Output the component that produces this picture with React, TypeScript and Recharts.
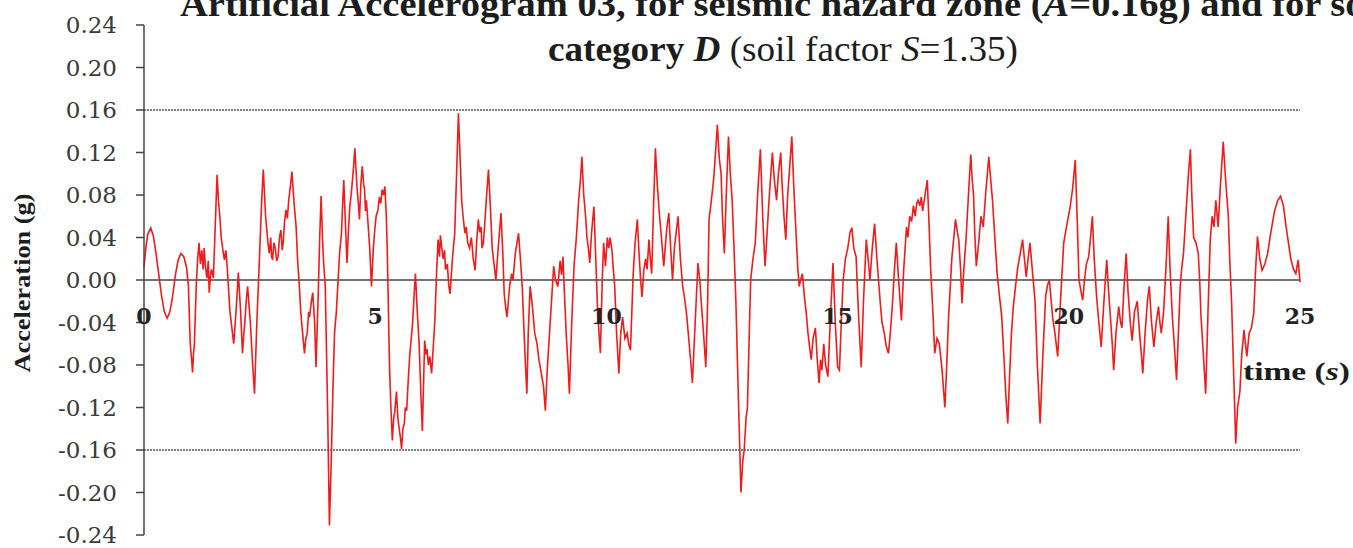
import { Line, LineChart, ReferenceDot, ReferenceLine, XAxis, YAxis } from "recharts";

// [time (s), acceleration (g)], in 5 s pieces
const seg0to5: [number, number][] = [
  [0.0, 0.012], [0.04, 0.03], [0.08, 0.043], [0.145, 0.049], [0.2, 0.042], [0.26, 0.025], [0.32, 0.005], [0.38, -0.015],
  [0.44, -0.03], [0.5, -0.036], [0.56, -0.03], [0.62, -0.015], [0.68, 0.005], [0.74, 0.019], [0.8, 0.025], [0.86, 0.022],
  [0.92, 0.012], [0.96, -0.005], [1.0, -0.06], [1.03, -0.075], [1.05, -0.087], [1.07, -0.07], [1.09, -0.06], [1.13, -0.005],
  [1.16, 0.02], [1.19, 0.035], [1.22, 0.015], [1.25, 0.028], [1.28, 0.01], [1.3, 0.03], [1.33, 0.012], [1.36, 0.002],
  [1.39, 0.018], [1.41, -0.012], [1.44, 0.005], [1.46, 0.01], [1.5, 0.002], [1.54, 0.05], [1.58, 0.099], [1.61, 0.075],
  [1.64, 0.06], [1.67, 0.04], [1.7, 0.03], [1.74, 0.019], [1.77, 0.028], [1.8, 0.012], [1.83, -0.01], [1.86, -0.03],
  [1.9, -0.045], [1.94, -0.06], [1.99, -0.03], [2.04, 0.007], [2.09, -0.03], [2.13, -0.069], [2.16, -0.05], [2.18, -0.04],
  [2.21, -0.02], [2.24, -0.006], [2.3, -0.04], [2.35, -0.08], [2.39, -0.107], [2.44, -0.04], [2.49, 0.013], [2.54, 0.07],
  [2.58, 0.104], [2.63, 0.06], [2.66, 0.045], [2.68, 0.035], [2.71, 0.025], [2.74, 0.04], [2.76, 0.022], [2.78, 0.019],
  [2.81, 0.035], [2.84, 0.03], [2.87, 0.018], [2.9, 0.022], [2.93, 0.04], [2.96, 0.047], [2.99, 0.028], [3.01, 0.035],
  [3.04, 0.055], [3.07, 0.066], [3.1, 0.058], [3.13, 0.075], [3.17, 0.09], [3.2, 0.102], [3.23, 0.082], [3.25, 0.07],
  [3.29, 0.05], [3.32, 0.02], [3.36, -0.006], [3.39, -0.03], [3.42, -0.045], [3.47, -0.069], [3.5, -0.055], [3.53, -0.05],
  [3.56, -0.03], [3.58, -0.035], [3.62, -0.02], [3.65, -0.012], [3.69, -0.04], [3.72, -0.082], [3.77, -0.01], [3.8, 0.04],
  [3.83, 0.079], [3.86, 0.04], [3.88, 0.02], [3.92, -0.006], [3.97, -0.12], [4.01, -0.231], [4.05, -0.17], [4.08, -0.113],
  [4.12, -0.05], [4.16, -0.03], [4.19, -0.006], [4.23, 0.025], [4.27, 0.044], [4.3, 0.075], [4.32, 0.094], [4.35, 0.06],
  [4.39, 0.016], [4.42, 0.045], [4.45, 0.069], [4.48, 0.08], [4.5, 0.09], [4.53, 0.105], [4.56, 0.124], [4.59, 0.1],
  [4.61, 0.085], [4.64, 0.07], [4.66, 0.057], [4.69, 0.09], [4.72, 0.107], [4.75, 0.09], [4.77, 0.085], [4.79, 0.065],
  [4.81, 0.075], [4.85, 0.05], [4.88, 0.031], [4.92, -0.006], [4.96, 0.03],
];

const seg5to10: [number, number][] = [
  [4.99, 0.047], [5.02, 0.06], [5.06, 0.066], [5.09, 0.078], [5.12, 0.072], [5.15, 0.085], [5.18, 0.08], [5.21, 0.088],
  [5.24, 0.06], [5.26, 0.03], [5.31, -0.082], [5.34, -0.12], [5.37, -0.151], [5.4, -0.13], [5.42, -0.125], [5.46, -0.105],
  [5.49, -0.13], [5.52, -0.14], [5.55, -0.15], [5.57, -0.159], [5.6, -0.14], [5.63, -0.135], [5.65, -0.12], [5.68, -0.123],
  [5.72, -0.09], [5.75, -0.069], [5.78, -0.055], [5.81, -0.04], [5.84, -0.015], [5.87, 0.006], [5.91, -0.03], [5.95, -0.06],
  [5.99, -0.11], [6.02, -0.142], [6.05, -0.09], [6.07, -0.057], [6.1, -0.07], [6.12, -0.065], [6.15, -0.08], [6.18, -0.072],
  [6.22, -0.088], [6.26, -0.06], [6.29, -0.038], [6.33, 0.01], [6.36, 0.038], [6.39, 0.022], [6.41, 0.042], [6.44, 0.03],
  [6.47, 0.02], [6.5, 0.028], [6.52, 0.01], [6.56, 0.015], [6.59, -0.005], [6.62, -0.013], [6.67, 0.02], [6.72, 0.044],
  [6.76, 0.1], [6.8, 0.157], [6.84, 0.11], [6.87, 0.075], [6.9, 0.06], [6.94, 0.044], [6.97, 0.05], [7.0, 0.035],
  [7.04, 0.03], [7.08, 0.04], [7.12, 0.02], [7.16, 0.009], [7.2, 0.04], [7.23, 0.057], [7.26, 0.045], [7.29, 0.05],
  [7.31, 0.03], [7.34, 0.035], [7.38, 0.06], [7.41, 0.08], [7.45, 0.104], [7.49, 0.07], [7.53, 0.03], [7.57, 0.015],
  [7.61, 0.0], [7.66, 0.03], [7.72, 0.063], [7.76, 0.025], [7.79, -0.013], [7.82, -0.025], [7.85, -0.035], [7.88, -0.02],
  [7.91, -0.005], [7.95, 0.006], [7.98, 0.0], [8.03, 0.025], [8.1, 0.044], [8.14, 0.02], [8.18, -0.006], [8.22, -0.05],
  [8.25, -0.08], [8.28, -0.107], [8.31, -0.05], [8.35, -0.006], [8.4, -0.025], [8.45, -0.05], [8.5, -0.06], [8.54, -0.075],
  [8.57, -0.082], [8.6, -0.09], [8.64, -0.1], [8.68, -0.123], [8.72, -0.085], [8.77, -0.05], [8.82, -0.015], [8.86, 0.013],
  [8.9, 0.0], [8.95, -0.006], [9.0, 0.018], [9.03, 0.005], [9.06, 0.022], [9.09, -0.01], [9.13, -0.05], [9.17, -0.08],
  [9.2, -0.107], [9.25, -0.04], [9.3, 0.013], [9.35, 0.04], [9.4, 0.075], [9.44, 0.095], [9.47, 0.116], [9.51, 0.08],
  [9.55, 0.06], [9.58, 0.04], [9.61, 0.03], [9.64, 0.016], [9.68, 0.045], [9.73, 0.069], [9.77, 0.02], [9.81, -0.03],
  [9.84, -0.05], [9.87, -0.069], [9.91, 0.0], [9.94, 0.035],
];

const seg10to15: [number, number][] = [
  [9.98, 0.013], [10.02, 0.04], [10.05, 0.03], [10.08, 0.04], [10.12, 0.028], [10.15, 0.01], [10.18, -0.006],
  [10.22, -0.05], [10.27, -0.088], [10.31, -0.05], [10.35, -0.035], [10.4, -0.055], [10.45, -0.05], [10.48, -0.06],
  [10.52, -0.066], [10.55, -0.03], [10.58, 0.006], [10.62, 0.035], [10.67, 0.057], [10.7, 0.03], [10.74, 0.0],
  [10.77, -0.016], [10.81, 0.01], [10.85, 0.02], [10.88, 0.01], [10.92, 0.038], [10.95, 0.02], [10.98, 0.006],
  [11.02, 0.07], [11.06, 0.124], [11.1, 0.09], [11.15, 0.06], [11.19, 0.04], [11.24, 0.013], [11.28, 0.035], [11.31, 0.05],
  [11.35, 0.063], [11.39, 0.03], [11.43, 0.0], [11.47, 0.03], [11.51, 0.045], [11.55, 0.06], [11.6, 0.02], [11.65, -0.006],
  [11.7, -0.02], [11.74, -0.035], [11.79, -0.06], [11.83, -0.08], [11.86, -0.097], [11.92, -0.04], [11.98, 0.016],
  [12.02, 0.0], [12.05, -0.02], [12.1, -0.05], [12.15, -0.082], [12.19, -0.02], [12.22, 0.057], [12.27, 0.075],
  [12.32, 0.095], [12.36, 0.12], [12.4, 0.146], [12.44, 0.115], [12.48, 0.1], [12.51, 0.06], [12.55, 0.025], [12.6, 0.09],
  [12.64, 0.135], [12.68, 0.1], [12.72, 0.075], [12.76, 0.03], [12.8, -0.02], [12.86, -0.12], [12.91, -0.2],
  [12.95, -0.17], [12.98, -0.16], [13.02, -0.13], [13.05, -0.12], [13.09, -0.05], [13.12, 0.0], [13.17, 0.02],
  [13.22, 0.035], [13.27, 0.08], [13.33, 0.123], [13.38, 0.06], [13.43, 0.013], [13.47, 0.04], [13.5, 0.063], [13.54, 0.09],
  [13.59, 0.12], [13.63, 0.095], [13.68, 0.075], [13.72, 0.1], [13.77, 0.12], [13.8, 0.09], [13.84, 0.06], [13.88, 0.038],
  [13.92, 0.08], [13.97, 0.11], [14.01, 0.135], [14.05, 0.09], [14.1, 0.045], [14.14, 0.01], [14.17, -0.006], [14.2, 0.0],
  [14.24, 0.006], [14.28, -0.015], [14.32, -0.03], [14.36, -0.05], [14.4, -0.065], [14.43, -0.075], [14.47, -0.055],
  [14.52, -0.045], [14.56, -0.075], [14.6, -0.097], [14.63, -0.075], [14.66, -0.085], [14.7, -0.06], [14.74, -0.08],
  [14.79, -0.091], [14.84, -0.04], [14.9, 0.016], [14.95, -0.04],
];

const seg15to20: [number, number][] = [
  [15.0, -0.082], [15.04, -0.085], [15.08, -0.04], [15.12, 0.0], [15.17, 0.02], [15.22, 0.03], [15.27, 0.045],
  [15.31, 0.049], [15.35, 0.03], [15.4, 0.022], [15.45, -0.03], [15.51, -0.082], [15.56, -0.02], [15.62, 0.038],
  [15.66, 0.02], [15.7, 0.0], [15.75, 0.03], [15.8, 0.053], [15.85, 0.02], [15.92, -0.02], [15.96, -0.04], [16.01, -0.05],
  [16.05, -0.062], [16.1, -0.069], [16.14, -0.05], [16.19, -0.02], [16.23, 0.01], [16.27, 0.035], [16.32, 0.0],
  [16.38, -0.038], [16.43, 0.01], [16.49, 0.05], [16.52, 0.04], [16.56, 0.06], [16.6, 0.055], [16.64, 0.07], [16.68, 0.06],
  [16.71, 0.072], [16.74, 0.075], [16.78, 0.07], [16.81, 0.078], [16.84, 0.065], [16.89, 0.08], [16.94, 0.094],
  [16.98, 0.05], [17.01, 0.013], [17.06, -0.03], [17.1, -0.069], [17.15, -0.055], [17.2, -0.06], [17.26, -0.085],
  [17.32, -0.12], [17.36, -0.08], [17.4, -0.035], [17.47, 0.02], [17.55, 0.057], [17.59, 0.045], [17.62, 0.038],
  [17.66, 0.01], [17.69, -0.022], [17.73, 0.01], [17.78, 0.04], [17.83, 0.08], [17.88, 0.118], [17.91, 0.095],
  [17.94, 0.08], [17.97, 0.04], [18.0, 0.013], [18.05, 0.035], [18.1, 0.06], [18.15, 0.05], [18.2, 0.08], [18.27, 0.116],
  [18.31, 0.095], [18.35, 0.075], [18.4, 0.04], [18.45, 0.006], [18.5, -0.015], [18.55, -0.035], [18.6, -0.075],
  [18.64, -0.11], [18.68, -0.135], [18.72, -0.09], [18.76, -0.05], [18.8, -0.025], [18.85, -0.005], [18.9, 0.013],
  [18.95, 0.025], [19.0, 0.038], [19.04, 0.02], [19.08, 0.003], [19.12, 0.02], [19.16, 0.035], [19.21, 0.01],
  [19.27, -0.02], [19.32, -0.08], [19.38, -0.135], [19.44, -0.07], [19.5, -0.015], [19.54, -0.005], [19.58, 0.0],
  [19.62, -0.02], [19.65, -0.035], [19.7, -0.05], [19.76, -0.072], [19.82, -0.02], [19.89, 0.035], [19.95, 0.05],
];

const seg20to25: [number, number][] = [
  [20.03, 0.069], [20.08, 0.085], [20.14, 0.113], [20.18, 0.06], [20.22, 0.0], [20.26, -0.01], [20.3, -0.019],
  [20.34, 0.0], [20.38, 0.015], [20.43, 0.022], [20.47, 0.04], [20.51, 0.06], [20.55, 0.02], [20.6, -0.015],
  [20.65, -0.04], [20.7, -0.063], [20.76, -0.02], [20.82, 0.019], [20.86, -0.01], [20.9, -0.035], [20.94, -0.06],
  [20.97, -0.085], [21.02, -0.05], [21.08, -0.025], [21.12, -0.04], [21.15, -0.045], [21.19, -0.01], [21.24, 0.025],
  [21.28, -0.01], [21.33, -0.04], [21.37, -0.057], [21.42, -0.03], [21.48, -0.02], [21.53, -0.05], [21.57, -0.07],
  [21.6, -0.088], [21.65, -0.05], [21.7, -0.02], [21.74, -0.006], [21.79, -0.04], [21.84, -0.063], [21.89, -0.04],
  [21.94, -0.025], [21.97, -0.04], [22.0, -0.05], [22.05, -0.03], [22.1, 0.01], [22.15, 0.06], [22.19, 0.01],
  [22.24, -0.035], [22.28, -0.06], [22.33, -0.094], [22.37, -0.05], [22.41, -0.006], [22.44, 0.01], [22.48, 0.025],
  [22.53, 0.06], [22.58, 0.095], [22.63, 0.123], [22.66, 0.08], [22.7, 0.04], [22.75, 0.035], [22.8, 0.025], [22.83, 0.0],
  [22.86, -0.035], [22.91, -0.07], [22.96, -0.107], [23.01, -0.03], [23.06, 0.038], [23.1, 0.06], [23.14, 0.05],
  [23.18, 0.075], [23.23, 0.05], [23.28, 0.09], [23.34, 0.13], [23.39, 0.095], [23.45, 0.06], [23.48, 0.02],
  [23.52, -0.02], [23.56, -0.08], [23.61, -0.154], [23.65, -0.12], [23.7, -0.105], [23.74, -0.07], [23.79, -0.047],
  [23.82, -0.06], [23.85, -0.072], [23.9, -0.05], [23.95, -0.045], [24.0, -0.031], [24.04, 0.01], [24.08, 0.041],
  [24.13, 0.02], [24.18, 0.009], [24.24, 0.015], [24.3, 0.025], [24.37, 0.045], [24.45, 0.065], [24.52, 0.075],
  [24.58, 0.079], [24.64, 0.07], [24.7, 0.05], [24.75, 0.035], [24.8, 0.02], [24.86, 0.01], [24.91, 0.006],
  [24.96, 0.019], [25.0, -0.002],
];

const yTicks = [0.24, 0.2, 0.16, 0.12, 0.08, 0.04, 0, -0.04, -0.08, -0.12, -0.16, -0.2, -0.24];
const xTicks = [0, 5, 10, 15, 20, 25];
const limitLines = [0.16, -0.16];

const rows = [...seg0to5, ...seg5to10, ...seg10to15, ...seg15to20, ...seg20to25].map(([t, a]) => ({ t, a }));

export default function App() {
  return (
    <div style={{ position: "absolute", left: 0, top: 0, width: 1353, height: 548, background: "#fff" }}>
      <LineChart width={1353} height={548} data={rows} margin={{ top: 25, right: 53, bottom: 13, left: 0 }}>
        <XAxis dataKey="t" type="number" domain={[0, 25]} hide />
        <YAxis
          type="number"
          domain={[-0.24, 0.24]}
          ticks={yTicks}
          interval={0}
          width={144}
          tickFormatter={(v) => Number(v).toFixed(2)}
          tick={{ fontFamily: "DejaVu Serif", fontSize: 23, fill: "#3a3a3a" }}
          tickSize={8}
          tickMargin={19}
          axisLine={{ stroke: "#444", strokeWidth: 1.5 }}
          tickLine={{ stroke: "#444", strokeWidth: 1.5 }}
        />
        {limitLines.map((v) => (
          <ReferenceLine key={v} y={v} stroke="#555" strokeWidth={1.5} strokeDasharray="2 1" />
        ))}
        <ReferenceLine y={0} stroke="#444" strokeWidth={1.5} />
        <Line type="linear" dataKey="a" stroke="#f21b1b" strokeWidth={1.6} dot={false} isAnimationActive={false} />
        {xTicks.map((t) => (
          <ReferenceDot
            key={t}
            x={t}
            y={0}
            r={0}
            fill="none"
            stroke="none"
            label={{
              value: String(t),
              position: "bottom",
              offset: 28,
              style: { fontFamily: "DejaVu Serif", fontSize: 22, fontWeight: 700, fill: "#222" },
            }}
          />
        ))}
      </LineChart>
      <svg
        width={1353}
        height={548}
        style={{ position: "absolute", left: 0, top: 0, pointerEvents: "none" }}
        fontFamily="Liberation Serif"
        fontWeight={700}
        fill="#1d1d1d"
      >
        <text x={180} y={16} fontSize={36} textLength={1206} lengthAdjust="spacingAndGlyphs">
          Artificial Accelerogram 03, for seismic hazard zone (<tspan fontStyle="italic">A</tspan>=0.16g) and for soil
        </text>
        <text x={548} y={61} fontSize={36} textLength={470} lengthAdjust="spacingAndGlyphs">
          category <tspan fontStyle="italic">D</tspan>
          <tspan fontWeight={400}> (soil factor <tspan fontStyle="italic">S</tspan>=1.35)</tspan>
        </text>
        <text
          x={0}
          y={0}
          transform="translate(30 283) rotate(-90)"
          textAnchor="middle"
          fontSize={24}
          textLength={179}
          lengthAdjust="spacingAndGlyphs"
        >
          Acceleration (g)
        </text>
        <text x={1243} y={380} fontSize={26} textLength={107} lengthAdjust="spacingAndGlyphs">
          time (<tspan fontStyle="italic">s</tspan>)
        </text>
      </svg>
    </div>
  );
}
